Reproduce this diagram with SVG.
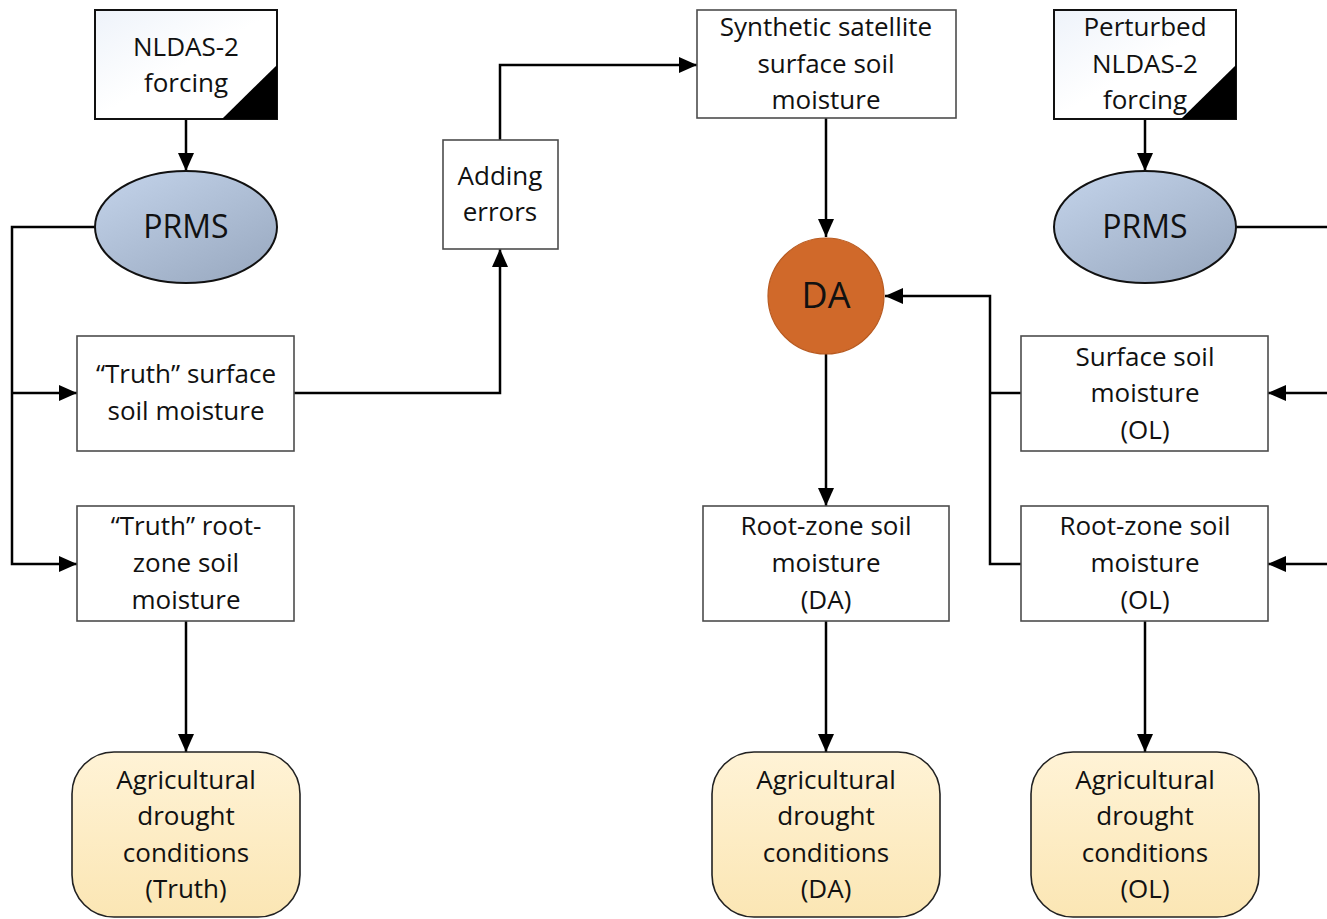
<svg xmlns="http://www.w3.org/2000/svg" width="1327" height="919" viewBox="0 0 1327 919">
<style>
.box{fill:#ffffff;stroke:#4d4d4d;stroke-width:1.6}
.fbox{fill:url(#gw);stroke:#111;stroke-width:2}
.tri{fill:#000}
.ell{fill:url(#gb);stroke:#111;stroke-width:2}
.da{fill:#d0692a;stroke:#b85a20;stroke-width:1.2}
.out{fill:url(#gy);stroke:#222;stroke-width:1.6}
.t{font-family:"Open Sans","Liberation Sans",sans-serif;font-size:26px;fill:#111;text-anchor:middle}
.big{font-size:32px}
.dat{font-size:36px}
.c{fill:none;stroke:#000;stroke-width:2.5}
</style>
<defs>
<linearGradient id="gw" x1="0" y1="0" x2="1" y2="1"><stop offset="0" stop-color="#eef3fa"/><stop offset="0.5" stop-color="#ffffff"/></linearGradient>
<linearGradient id="gb" x1="0" y1="0" x2="0.8" y2="1"><stop offset="0" stop-color="#c4d4eb"/><stop offset="1" stop-color="#9babc2"/></linearGradient>
<linearGradient id="gy" x1="0" y1="0" x2="0" y2="1"><stop offset="0" stop-color="#fff3d6"/><stop offset="1" stop-color="#fbe6b4"/></linearGradient>
<marker id="ah" viewBox="0 0 18 16" refX="18" refY="8" markerWidth="18" markerHeight="16" markerUnits="userSpaceOnUse" orient="auto"><path d="M0,0 L18,8 L0,16 z" fill="#000"/></marker>
</defs>

<g id="connectors">
<path class="c" d="M186,119 V171" marker-end="url(#ah)"/>
<path class="c" d="M95,227 H12 V564 H77" marker-end="url(#ah)"/>
<path class="c" d="M12,393 H77" marker-end="url(#ah)"/>
<path class="c" d="M186,621 V752" marker-end="url(#ah)"/>
<path class="c" d="M294,393 H500 V249" marker-end="url(#ah)"/>
<path class="c" d="M500,140 V65 H697" marker-end="url(#ah)"/>
<path class="c" d="M826,118 V237" marker-end="url(#ah)"/>
<path class="c" d="M826,354 V506" marker-end="url(#ah)"/>
<path class="c" d="M826,621 V752" marker-end="url(#ah)"/>
<path class="c" d="M1145,119 V171" marker-end="url(#ah)"/>
<path class="c" d="M1236,227 H1327"/>
<path class="c" d="M1327,393 H1268" marker-end="url(#ah)"/>
<path class="c" d="M1327,564 H1268" marker-end="url(#ah)"/>
<path class="c" d="M1021,393 H990"/>
<path class="c" d="M1021,564 H990 V296 H885" marker-end="url(#ah)"/>
<path class="c" d="M1145,621 V752" marker-end="url(#ah)"/>
</g>

<g id="nldas">
<rect class="fbox" x="95" y="10" width="182" height="109"/>
<path class="tri" d="M222,119 L277,119 L277,65 z"/>
<text class="t" x="186" y="56">NLDAS-2</text>
<text class="t" x="186" y="92">forcing</text>
</g>

<g id="prms1">
<ellipse class="ell" cx="186" cy="227" rx="91" ry="56"/>
<text class="t big" x="186" y="238">PRMS</text>
</g>

<g id="truth-surface">
<rect class="box" x="77" y="336" width="217" height="115"/>
<text class="t" x="186" y="383">“Truth” surface</text>
<text class="t" x="186" y="420">soil moisture</text>
</g>

<g id="truth-root">
<rect class="box" x="77" y="506" width="217" height="115"/>
<text class="t" x="186" y="535">“Truth” root-</text>
<text class="t" x="186" y="572">zone soil</text>
<text class="t" x="186" y="609">moisture</text>
</g>

<g id="ag-truth">
<rect class="out" x="72" y="752" width="228" height="165" rx="42"/>
<text class="t" x="186" y="789">Agricultural</text>
<text class="t" x="186" y="825">drought</text>
<text class="t" x="186" y="862">conditions</text>
<text class="t" x="186" y="898">(Truth)</text>
</g>

<g id="adding-errors">
<rect class="box" x="443" y="140" width="115" height="109"/>
<text class="t" x="500" y="185">Adding</text>
<text class="t" x="500" y="221">errors</text>
</g>

<g id="synthetic">
<rect class="box" x="697" y="10" width="259" height="108"/>
<text class="t" x="826" y="36">Synthetic satellite</text>
<text class="t" x="826" y="73">surface soil</text>
<text class="t" x="826" y="109">moisture</text>
</g>

<g id="da">
<circle class="da" cx="826" cy="296" r="58"/>
<text class="t dat" x="826" y="308">DA</text>
</g>

<g id="root-da">
<rect class="box" x="703" y="506" width="246" height="115"/>
<text class="t" x="826" y="535">Root-zone soil</text>
<text class="t" x="826" y="572">moisture</text>
<text class="t" x="826" y="609">(DA)</text>
</g>

<g id="ag-da">
<rect class="out" x="712" y="752" width="228" height="165" rx="42"/>
<text class="t" x="826" y="789">Agricultural</text>
<text class="t" x="826" y="825">drought</text>
<text class="t" x="826" y="862">conditions</text>
<text class="t" x="826" y="898">(DA)</text>
</g>

<g id="perturbed">
<rect class="fbox" x="1054" y="10" width="182" height="109"/>
<path class="tri" d="M1181,119 L1236,119 L1236,65 z"/>
<text class="t" x="1145" y="36">Perturbed</text>
<text class="t" x="1145" y="73">NLDAS-2</text>
<text class="t" x="1145" y="109">forcing</text>
</g>

<g id="prms2">
<ellipse class="ell" cx="1145" cy="227" rx="91" ry="56"/>
<text class="t big" x="1145" y="238">PRMS</text>
</g>

<g id="surface-ol">
<rect class="box" x="1021" y="336" width="247" height="115"/>
<text class="t" x="1145" y="366">Surface soil</text>
<text class="t" x="1145" y="402">moisture</text>
<text class="t" x="1145" y="439">(OL)</text>
</g>

<g id="root-ol">
<rect class="box" x="1021" y="506" width="247" height="115"/>
<text class="t" x="1145" y="535">Root-zone soil</text>
<text class="t" x="1145" y="572">moisture</text>
<text class="t" x="1145" y="609">(OL)</text>
</g>

<g id="ag-ol">
<rect class="out" x="1031" y="752" width="228" height="165" rx="42"/>
<text class="t" x="1145" y="789">Agricultural</text>
<text class="t" x="1145" y="825">drought</text>
<text class="t" x="1145" y="862">conditions</text>
<text class="t" x="1145" y="898">(OL)</text>
</g>
</svg>
